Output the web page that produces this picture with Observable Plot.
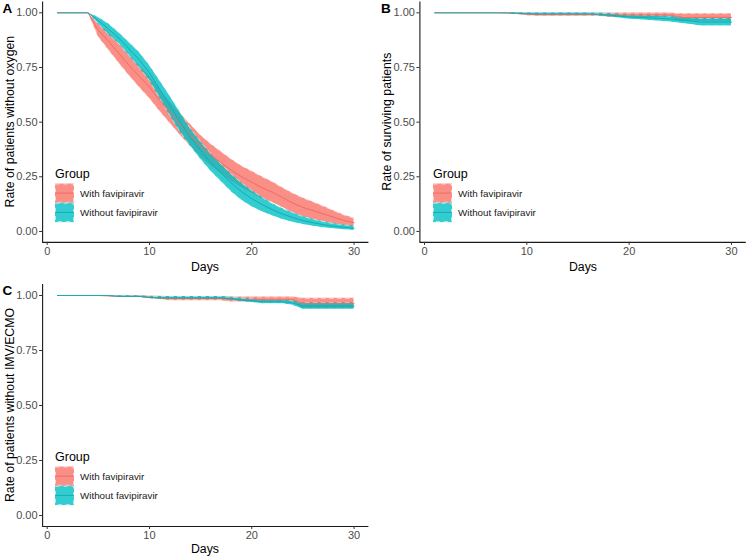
<!DOCTYPE html>
<html>
<head>
<meta charset="utf-8">
<script src="https://cdn.jsdelivr.net/npm/d3@7"></script>
<script src="https://cdn.jsdelivr.net/npm/@observablehq/plot@0.6"></script>
<style>
  html, body { margin: 0; padding: 0; background: #fff; }
  #wrap { position: relative; width: 753px; height: 557px; background: #fff; overflow: hidden; font-family: "Liberation Sans", Arial, sans-serif; }
  .pnl { position: absolute; }
  #overlay { position: absolute; left: 0; top: 0; pointer-events: none; }
</style>
</head>
<body>
<div id="wrap"></div>
<script>
// ---------------- DATA ----------------
const groups = ["With favipiravir", "Without favipiravir"];
const colors = ["#F8766D", "#00BFC4"];
const days = [1,2,3,4,5,6,7,8,9,10,11,12,13,14,15,16,17,18,19,20,21,22,23,24,25,26,27,28,29,30];
const xTicks = [0, 10, 20, 30];
const yTicks = [0, 0.25, 0.5, 0.75, 1];

// Panel A: rate of patients without oxygen
const A_with_mid = [1,1,1,1,0.92,0.87,0.815,0.76,0.71,0.66,0.60,0.545,0.49,0.44,0.39,0.35,0.315,0.28,0.25,0.225,0.20,0.18,0.155,0.13,0.11,0.095,0.08,0.065,0.05,0.04];
const A_with_lo  = [1,1,1,1,0.89,0.83,0.77,0.713,0.66,0.608,0.55,0.495,0.44,0.39,0.34,0.30,0.265,0.23,0.20,0.175,0.15,0.133,0.11,0.085,0.067,0.055,0.045,0.035,0.025,0.02];
const A_with_hi  = [1,1,1,1,0.95,0.91,0.86,0.807,0.76,0.712,0.65,0.595,0.54,0.49,0.44,0.40,0.365,0.33,0.30,0.275,0.25,0.227,0.20,0.175,0.153,0.135,0.115,0.095,0.075,0.06];
const A_wo_mid   = [1,1,1,1,0.965,0.925,0.885,0.835,0.785,0.725,0.65,0.575,0.50,0.43,0.37,0.315,0.268,0.222,0.182,0.15,0.123,0.10,0.08,0.064,0.05,0.04,0.031,0.024,0.019,0.015];
const A_wo_lo    = [1,1,1,1,0.95,0.90,0.86,0.805,0.75,0.69,0.61,0.53,0.455,0.39,0.33,0.275,0.228,0.182,0.143,0.113,0.09,0.072,0.055,0.042,0.032,0.024,0.017,0.012,0.008,0.005];
const A_wo_hi    = [1,1,1,1,0.98,0.95,0.91,0.865,0.82,0.76,0.69,0.62,0.545,0.47,0.41,0.355,0.308,0.262,0.222,0.187,0.156,0.128,0.105,0.086,0.068,0.056,0.045,0.036,0.03,0.025];

// Panel B: rate of surviving patients
const B_with_mid = [1,1,1,1,1,1,1,0.999,0.997,0.994,0.992,0.992,0.992,0.992,0.992,0.992,0.992,0.99,0.99,0.99,0.99,0.99,0.99,0.99,0.979,0.979,0.979,0.979,0.979,0.979];
const B_with_lo  = [1,1,1,1,1,1,1,0.997,0.993,0.987,0.984,0.984,0.984,0.984,0.984,0.984,0.984,0.979,0.979,0.979,0.979,0.979,0.979,0.979,0.962,0.962,0.962,0.962,0.962,0.962];
const B_with_hi  = [1,1,1,1,1,1,1,1,1,1,0.999,0.999,0.999,0.999,0.999,0.999,0.999,0.999,0.999,0.999,0.999,0.999,0.999,0.999,0.996,0.996,0.996,0.996,0.996,0.996];
const B_wo_mid   = [1,1,1,1,1,1,1,1,0.998,0.996,0.995,0.995,0.995,0.995,0.995,0.995,0.993,0.99,0.985,0.981,0.979,0.977,0.975,0.972,0.967,0.963,0.958,0.958,0.958,0.958];
const B_wo_lo    = [1,1,1,1,1,1,1,1,0.994,0.991,0.99,0.99,0.99,0.99,0.99,0.99,0.986,0.982,0.976,0.971,0.968,0.965,0.962,0.958,0.952,0.947,0.94,0.94,0.94,0.94];
const B_wo_hi    = [1,1,1,1,1,1,1,1,1,0.999,0.999,0.999,0.999,0.999,0.999,0.999,0.998,0.997,0.994,0.99,0.989,0.988,0.987,0.985,0.981,0.978,0.975,0.975,0.975,0.975];

// Panel C: rate of patients without IMV/ECMO
const C_with_mid = [1,1,1,1,1,0.998,0.996,0.996,0.996,0.992,0.99,0.986,0.986,0.986,0.986,0.986,0.986,0.981,0.981,0.981,0.981,0.981,0.981,0.981,0.963,0.963,0.963,0.963,0.963,0.963];
const C_with_lo  = [1,1,1,1,1,0.995,0.992,0.992,0.992,0.985,0.982,0.976,0.976,0.976,0.976,0.976,0.976,0.97,0.97,0.97,0.97,0.97,0.97,0.97,0.94,0.94,0.94,0.94,0.94,0.94];
const C_with_hi  = [1,1,1,1,1,1,0.999,0.999,0.999,0.998,0.997,0.995,0.995,0.995,0.995,0.995,0.995,0.993,0.993,0.993,0.993,0.993,0.993,0.993,0.987,0.987,0.987,0.987,0.987,0.987];
const C_wo_mid   = [1,1,1,1,1,1,0.996,0.996,0.996,0.991,0.989,0.989,0.989,0.989,0.989,0.989,0.989,0.985,0.98,0.976,0.972,0.972,0.972,0.966,0.952,0.952,0.952,0.952,0.952,0.952];
const C_wo_lo    = [1,1,1,1,1,1,0.992,0.992,0.992,0.986,0.983,0.983,0.983,0.983,0.983,0.983,0.983,0.978,0.972,0.968,0.963,0.963,0.963,0.956,0.937,0.937,0.937,0.937,0.937,0.937];
const C_wo_hi    = [1,1,1,1,1,1,0.999,0.999,0.999,0.996,0.995,0.995,0.995,0.995,0.995,0.995,0.995,0.992,0.988,0.985,0.981,0.981,0.981,0.976,0.967,0.967,0.967,0.967,0.967,0.967];

// ---------------- BUILD ----------------
function table(withMid, withLo, withHi, woMid, woLo, woHi) {
  const rows = [];
  days.forEach((d, i) => rows.push({day: d, group: groups[0], mid: withMid[i], lo: withLo[i], hi: withHi[i]}));
  days.forEach((d, i) => rows.push({day: d, group: groups[1], mid: woMid[i], lo: woLo[i], hi: woHi[i]}));
  return rows;
}

const FONT = '"Liberation Sans", Arial, sans-serif';

function panel(rows, {width, height, marginLeft, marginRight, marginTop, marginBottom}) {
  const marks = [];
  groups.forEach((g, gi) => {
    const sub = rows.filter(r => r.group === g);
    marks.push(Plot.areaY(sub, {x: "day", y1: "lo", y2: "hi", fill: colors[gi], fillOpacity: gi === 0 ? 0.82 : 0.8}));
    marks.push(Plot.lineY(sub, {x: "day", y: "lo", stroke: "white", strokeOpacity: 0.55, strokeWidth: 1, strokeDasharray: "4,4"}));
    marks.push(Plot.lineY(sub, {x: "day", y: "hi", stroke: "white", strokeOpacity: 0.55, strokeWidth: 1, strokeDasharray: "4,4"}));
  });
  groups.forEach((g, gi) => {
    const sub = rows.filter(r => r.group === g);
    marks.push(Plot.lineY(sub, {x: "day", y: "mid", stroke: gi === 0 ? "#F26B62" : "#11AEB2", strokeWidth: 1}));
  });
  marks.push(Plot.ruleX([-0.45], {stroke: "#1a1a1a", strokeWidth: 1.1}));
  marks.push(Plot.ruleY([-0.05], {stroke: "#1a1a1a", strokeWidth: 1.1}));
  marks.push(Plot.axisX({ticks: xTicks, tickSize: 3, tickPadding: 2, label: null, tickFormat: d3.format("d"), stroke: "#333", fill: "#4d4d4d"}));
  marks.push(Plot.axisY({ticks: yTicks, tickSize: 3, tickPadding: 2, label: null, tickFormat: d3.format(".2f"), stroke: "#333", fill: "#4d4d4d"}));
  return Plot.plot({
    width, height, marginLeft, marginRight, marginTop, marginBottom,
    x: {domain: [-0.45, 31.45]},
    y: {domain: [-0.05, 1.05]},
    style: {fontFamily: FONT, fontSize: "11px", background: "transparent", color: "#4d4d4d", overflow: "visible"},
    marks
  });
}

const wrap = document.getElementById("wrap");
function place(svg, left, top) {
  svg.classList.add("pnl");
  svg.style.left = left + "px";
  svg.style.top = top + "px";
  wrap.appendChild(svg);
}

place(panel(table(A_with_mid, A_with_lo, A_with_hi, A_wo_mid, A_wo_lo, A_wo_hi),
  {width: 376, height: 270, marginLeft: 42.1, marginRight: 7.6, marginTop: 1.4, marginBottom: 28.1}), 0, 0);
place(panel(table(B_with_mid, B_with_lo, B_with_hi, B_wo_mid, B_wo_lo, B_wo_hi),
  {width: 377, height: 270, marginLeft: 43.4, marginRight: 7.2, marginTop: 1.4, marginBottom: 28.1}), 376, 0);
place(panel(table(C_with_mid, C_with_lo, C_with_hi, C_wo_mid, C_wo_lo, C_wo_hi),
  {width: 376, height: 287, marginLeft: 42.1, marginRight: 7.6, marginTop: 14, marginBottom: 31}), 0, 270);

// ---------------- TEXT / LEGENDS OVERLAY ----------------
const ov = d3.select(wrap).append("svg").attr("id", "overlay").attr("width", 753).attr("height", 557)
  .style("font-family", FONT);

const tags = [["A", 2.5, 13], ["B", 381, 13], ["C", 2.5, 295]];
tags.forEach(([t, x, y]) => ov.append("text").attr("x", x).attr("y", y).attr("font-size", 13.5).attr("font-weight", "bold").attr("fill", "#000").text(t));

const xTitles = [[205, 270.5], [583, 270.5], [205, 552.5]];
xTitles.forEach(([x, y]) => ov.append("text").attr("x", x).attr("y", y).attr("text-anchor", "middle").attr("font-size", 12.3).attr("fill", "#000").text("Days"));

const yTitles = [["Rate of patients without oxygen", 13.5, 121.6], ["Rate of surviving patients", 390.5, 121.6], ["Rate of patients without IMV/ECMO", 13.5, 405]];
yTitles.forEach(([t, x, y]) => ov.append("text").attr("transform", `translate(${x},${y}) rotate(-90)`).attr("text-anchor", "middle").attr("font-size", 12.3).attr("fill", "#000").text(t));

function legend(x, y) {
  ov.append("text").attr("x", x).attr("y", y + 4.5).attr("font-size", 12.5).attr("fill", "#000").text("Group");
  groups.forEach((g, i) => {
    const ky = y + 10.5 + i * 19.3;
    ov.append("rect").attr("x", x).attr("y", ky).attr("width", 19).attr("height", 19.3)
      .attr("fill", colors[i]).attr("fill-opacity", i === 0 ? 0.82 : 0.8);
    ov.append("rect").attr("x", x + 0.5).attr("y", ky + 0.5).attr("width", 18).attr("height", 18.3)
      .attr("fill", "none").attr("stroke", "white").attr("stroke-opacity", 0.6).attr("stroke-dasharray", "4,4");
    ov.append("line").attr("x1", x).attr("x2", x + 19).attr("y1", ky + 9.6).attr("y2", ky + 9.6)
      .attr("stroke", i === 0 ? "#F26B62" : "#11AEB2").attr("stroke-width", 1);
    ov.append("text").attr("x", x + 25).attr("y", ky + 13.3).attr("font-size", 9.8).attr("fill", "#1a1a1a").text(g);
  });
}
legend(55, 173);
legend(433, 173);
legend(55, 456);
</script>
</body>
</html>
